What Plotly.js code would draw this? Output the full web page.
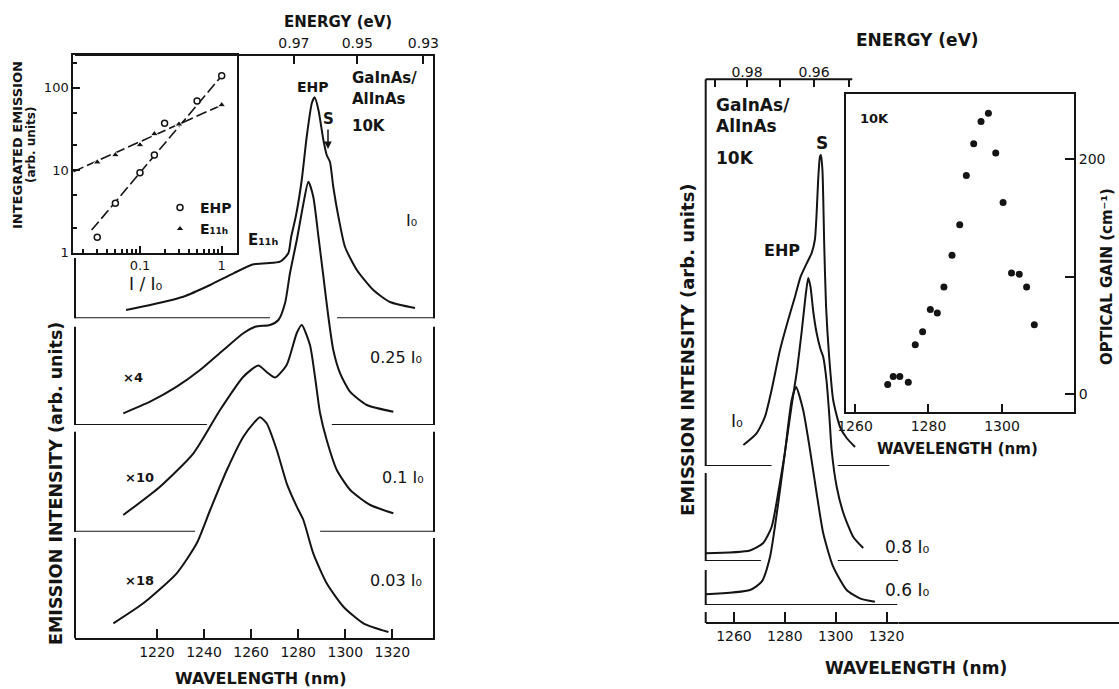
<!DOCTYPE html>
<html><head><meta charset="utf-8">
<script src="https://cdn.plot.ly/plotly-3.0.1.min.js"></script>
<style>html,body{margin:0;padding:0;background:#fff}#chart{width:1119px;height:689px}</style>
</head><body><div id="chart"></div>
<script>
// ---------------- DATA ----------------
// Left inset: integrated emission vs I/I0 (log-log)
const ratioEHP   = [0.03, 0.05, 0.1, 0.15, 0.2, 0.5, 1];
const emisEHP    = [1.54, 3.97, 9.3, 15.3, 37, 69, 139];
const ratioE11h  = [0.03, 0.05, 0.1, 0.15, 0.3, 1];
const emisE11h   = [12.5, 15.3, 20.2, 27.5, 36, 61.7];
const fitRatioEHP  = [0.0256, 1];
const fitEmisEHP   = [1.88, 139];
const fitRatioE11h = [0.0153, 1];
const fitEmisE11h  = [9.6, 61.7];

// Left main: emission spectra (wavelength nm, intensity arb. units above each baseline)
const wlL_I0  = [1206.9,1217.1,1231.2,1242.6,1252.5,1261.0,1266.6,1272.3,1275.8,1277.0,1279.1,1281.5,1283.6,1285.8,1287.0,1288.6,1290.7,1292.1,1293.5,1294.9,1297.1,1299.9,1304.9,1311.9,1319.0,1329.6];
const intL_I0 = [8.3,13.3,21.6,33.3,45,54,55,56.6,65,81.3,103.3,138.3,181.3,215.3,221,208.3,178.3,163.3,156.3,131.3,101.3,71.3,48.3,28.3,16.3,10.3];
const wlL_025  = [1205.7,1217.1,1228.4,1238.3,1248.2,1256.7,1261.7,1268.0,1271.6,1274.4,1276.5,1279.4,1282.1,1284.3,1286.4,1288.6,1290.7,1292.8,1294.9,1297.8,1302.0,1309.1,1320.4];
const intL_025 = [11.7,23.3,38.3,55,75,91.7,98.3,100,105,121.7,151.7,185,220,243.3,228.3,188.3,148.3,108.3,75,51.7,33.3,20,13.3];
const wlL_01  = [1205.7,1221.3,1235.5,1246.8,1256.7,1263.1,1266.6,1270.2,1275.1,1279.4,1281.5,1285.0,1287.2,1289.3,1292.1,1296.4,1302.1,1310.6,1320.4];
const intL_01 = [16.7,45,78.4,121.7,155,166.2,159.7,154.2,166.7,198.7,206.7,186.7,153.7,118.4,91.7,61.7,41.7,26.7,18.4];
const wlL_003  = [1201.5,1214.2,1228.4,1236.9,1242.6,1249.7,1256.7,1261.0,1263.8,1266.6,1270.9,1275.1,1279.4,1282.2,1286.4,1292.1,1299.2,1307.7,1318.3];
const intL_003 = [15,35,65,95,128.3,168.3,201.6,215,221,215,188.3,155,131.6,118.3,85,55,31.6,15,6.3];

// Right main: spectra
const wlR_I0  = [1263.7,1268.9,1272.2,1274.8,1278.1,1281.3,1284.0,1286.2,1288.6,1290.5,1291.8,1292.5,1293.1,1293.8,1294.2,1294.8,1295.5,1296.2,1297.4,1299.0,1301.7,1304.3,1307.6];
const intR_I0 = [21,32.7,49.3,76,116,146,169.3,189.3,202.7,212.7,226,252.7,286,309.3,311,295,220,160,110,66,39,28,19];
const wlR_08  = [1248.9,1266.3,1271.5,1274.8,1277.4,1280.0,1282.7,1284.8,1286.7,1288.3,1289.2,1290.1,1291.2,1292.5,1294.0,1295.1,1296.4,1297.5,1298.4,1300.4,1303.0,1306.9,1310.8];
const intR_08 = [7.7,10.5,18,34,68,108,156,191,231,268,283,274,249,228,212,204,180,145,111,74,48,24,13];
const wlR_06  = [1248.9,1266.3,1270.9,1274.2,1277.4,1280.0,1282.7,1284.4,1287.2,1289.9,1292.5,1295.1,1299.0,1304.3,1309.5,1315.4];
const intR_06 = [10.7,15,23.3,48.3,101.7,151.7,205,218,195,155,111.7,71.7,38.3,15,6.7,3.3];

// Right inset: optical gain
const gainWl = [1268.9,1270.4,1272.2,1274.5,1276.4,1278.4,1280.5,1282.4,1284.2,1286.4,1288.5,1290.3,1292.3,1294.3,1296.3,1298.3,1300.3,1302.6,1304.7,1306.7,1308.8];
const gainVal = [8,15,15,10,42,53,72,69,91,118,144,186,213,232,239,205,163,103,102,91,59];

// Tick labels
const wlTicksLeft  = [1220,1240,1260,1280,1300,1320];
const wlTicksRight = [1260,1280,1300,1320];
const wlTicksInset = [1260,1280,1300];
const energyLeft = [0.97,0.95,0.93];
const energyRightMajor = [0.98,0.96];
const energyRightMinor = [0.99,0.97,0.95];
const gainTicks = [0,100,200];
const gainTickText = ['0',' ','200'];
const ratioTicks = [0.1,1];
const ratioMinor = [0.02,0.03,0.04,0.05,0.06,0.07,0.08,0.09,0.2,0.3,0.4,0.5,0.6,0.7,0.8,0.9];
const emisTicks = [1,10,100];
const emisMinor = [2,5,20,50,200];

// Baseline gaps (wavelength ranges where a baseline is interrupted)
const gapL_I0 = [1268.0,1296.5], gapL_025 = [1241.2,1294.3], gapL_01 = [1236.2,1289.3];
const gapR_I0 = [1274.8,1300.8], gapR_08 = [1270.6,1300.8];

// ---------------- LAYOUT HELPERS ----------------
const W = 1119, H = 689, HC = 1239.84;
const INK = '#141414', FONT = 'DejaVu Sans';
const px = v => v / W, py = v => 1 - v / H;
const LXR = [1185.2, 1338.1], RXR = [1248.9, 1324.6];

function ydom(base, h) { return [py(base), py(base) + h / H]; }
function curve(x, y, xa, ya) {
  return {x, y, xaxis: xa, yaxis: ya, mode: 'lines', showlegend: false, hoverinfo: 'skip',
          line: {color: INK, width: 2, shape: 'spline', smoothing: 0.6}};
}
const data = [
  curve(wlL_I0, intL_I0, 'x', 'y'),
  curve(wlL_025, intL_025, 'x', 'y2'),
  curve(wlL_01, intL_01, 'x', 'y3'),
  curve(wlL_003, intL_003, 'x', 'y4'),
  {x: [], y: [], xaxis: 'x2', yaxis: 'y', showlegend: false},
  {x: fitRatioEHP, y: fitEmisEHP, xaxis: 'x3', yaxis: 'y5', mode: 'lines', showlegend: false,
   line: {color: INK, width: 1.6, dash: '11px,4px'}},
  {x: fitRatioE11h, y: fitEmisE11h, xaxis: 'x3', yaxis: 'y5', mode: 'lines', showlegend: false,
   line: {color: INK, width: 1.6, dash: '11px,4px'}},
  {x: ratioEHP, y: emisEHP, xaxis: 'x3', yaxis: 'y5', mode: 'markers', name: '<b>EHP</b>',
   marker: {symbol: 'circle', size: 6, color: '#fff', line: {color: INK, width: 1.5}}},
  {x: ratioE11h, y: emisE11h, xaxis: 'x3', yaxis: 'y5', mode: 'markers', name: '<b>E₁₁ₕ</b>',
   marker: {symbol: 'triangle-up', size: 7, color: INK, line: {color: '#fff', width: 1}}},
  curve(wlR_I0, intR_I0, 'x4', 'y6'),
  curve(wlR_08, intR_08, 'x4', 'y7'),
  curve(wlR_06, intR_06, 'x4', 'y8'),
  {x: [], y: [], xaxis: 'x5', yaxis: 'y6', showlegend: false},
  {x: gainWl, y: gainVal, xaxis: 'x6', yaxis: 'y9', mode: 'markers', showlegend: false,
   marker: {symbol: 'circle', size: 7, color: INK}}
];

const tf = {family: FONT, size: 14, color: INK};
const axBase = {showgrid: false, zeroline: false, fixedrange: true, linecolor: INK, linewidth: 2,
                tickcolor: INK, tickwidth: 2, tickfont: tf};
const hidden = {visible: false, fixedrange: true, showgrid: false, zeroline: false};

const layout = {
  width: W, height: H, margin: {l: 0, r: 0, t: 0, b: 0},
  paper_bgcolor: '#fff', plot_bgcolor: 'rgba(0,0,0,0)',
  font: {family: FONT, color: INK},
  showlegend: true,
  legend: {x: px(160), y: py(192), xanchor: 'left', yanchor: 'top', bgcolor: 'rgba(0,0,0,0)',
           font: {family: FONT, size: 14, color: INK}, itemwidth: 30, tracegroupgap: 0},
  xaxis: Object.assign({}, axBase, {domain: [px(75), px(435)], range: LXR, anchor: 'y4', showline: true,
           ticks: 'inside', ticklen: 9, tickmode: 'array', tickvals: wlTicksLeft, ticktext: wlTicksLeft.map(String)}),
  xaxis2: Object.assign({}, axBase, {overlaying: 'x', side: 'top', anchor: 'free', position: py(55), range: LXR,
           showline: true, ticks: 'inside', ticklen: 8, tickmode: 'array',
           tickvals: energyLeft.map(e => HC / e), ticktext: energyLeft.map(e => e.toFixed(2))}),
  yaxis:  Object.assign({}, hidden, {domain: ydom(318.3, 300), range: [0, 300], anchor: 'x'}),
  yaxis2: Object.assign({}, hidden, {domain: ydom(425, 300), range: [0, 300], anchor: 'x'}),
  yaxis3: Object.assign({}, hidden, {domain: ydom(531.7, 300), range: [0, 300], anchor: 'x'}),
  yaxis4: Object.assign({}, hidden, {domain: ydom(638.3, 300), range: [0, 300], anchor: 'x'}),
  xaxis3: Object.assign({}, axBase, {type: 'log', domain: [px(73.3), px(237.3)], range: [-1.816, 0.191], anchor: 'y5',
           showline: true, mirror: true, ticks: 'inside', ticklen: 7, tickmode: 'array', tickvals: ratioTicks,
           ticktext: ['0.1', '1'], tickfont: {family: FONT, size: 13, color: INK},
           minor: {ticks: 'inside', ticklen: 4, tickcolor: INK, tickwidth: 1.5, tickmode: 'array', tickvals: ratioMinor}}),
  yaxis5: Object.assign({}, axBase, {type: 'log', domain: [py(252.7), py(55)], range: [0, 2.396], anchor: 'x3',
           showline: true, mirror: true, ticks: 'inside', ticklen: 7, tickmode: 'array', tickvals: emisTicks,
           ticktext: ['1', '10', '100'], tickfont: {family: FONT, size: 13, color: INK},
           minor: {ticks: 'inside', ticklen: 4, tickcolor: INK, tickwidth: 1.5, tickmode: 'array', tickvals: emisMinor}}),
  xaxis4: Object.assign({}, axBase, {domain: [px(705.7), px(898.3)], range: RXR, anchor: 'free', position: py(623),
           showline: true, ticks: 'inside', ticklen: 10, tickmode: 'array', tickvals: wlTicksRight,
           ticktext: wlTicksRight.map(String)}),
  xaxis5: Object.assign({}, axBase, {overlaying: 'x4', side: 'top', anchor: 'free', position: py(79.3), range: RXR,
           showline: false, ticks: 'inside', ticklen: 7, tickmode: 'array',
           tickvals: energyRightMajor.map(e => HC / e), ticktext: energyRightMajor.map(e => e.toFixed(2)),
           minor: {ticks: 'inside', ticklen: 7, tickcolor: INK, tickwidth: 2, tickmode: 'array',
                   tickvals: energyRightMinor.map(e => HC / e)}}),
  yaxis6: Object.assign({}, hidden, {domain: ydom(466, 350), range: [0, 350], anchor: 'x4'}),
  yaxis7: Object.assign({}, hidden, {domain: ydom(561, 350), range: [0, 350], anchor: 'x4'}),
  yaxis8: Object.assign({}, hidden, {domain: ydom(605, 350), range: [0, 350], anchor: 'x4'}),
  xaxis6: Object.assign({}, axBase, {domain: [px(846), px(1074)], range: [1257.55, 1319.6], anchor: 'y9',
           showline: true, mirror: true, ticks: 'inside', ticklen: 8, tickmode: 'array', tickvals: wlTicksInset,
           ticktext: wlTicksInset.map(String)}),
  yaxis9: Object.assign({}, axBase, {domain: [py(412), py(94)], range: [-15.3, 255.3], anchor: 'x6', side: 'right',
           showline: true, mirror: true, ticks: 'inside', ticklen: 9, tickmode: 'array', tickvals: gainTicks,
           ticktext: gainTickText}),
  shapes: [],
  annotations: []
};

// frame segments (paper px)
function seg(x0, y0, x1, y1) {
  layout.shapes.push({type: 'line', xref: 'paper', yref: 'paper', x0: px(x0), x1: px(x1), y0: py(y0), y1: py(y1),
                      line: {color: INK, width: 2}});
}
[[55, 318.3], [326.7, 425], [431.7, 531.7], [538, 638.3]].forEach(s => seg(434, s[0], 434, s[1]));
[[258, 318.3], [326.7, 425], [431.7, 531.7], [538, 638.3]].forEach(s => seg(75, s[0], 75, s[1]));
[[79.3, 466], [473, 561], [570, 605], [612, 623]].forEach(s => seg(705.7, s[0], 705.7, s[1]));
seg(705.7, 79.3, 852.3, 79.3);
seg(898.3, 623, 1119, 623);

// baselines (data coords)
function base(xa, ya, x0, x1) {
  layout.shapes.push({type: 'line', xref: xa, yref: ya, x0, x1, y0: 0, y1: 0, line: {color: INK, width: 2}});
}
base('x', 'y', LXR[0], gapL_I0[0]); base('x', 'y', gapL_I0[1], LXR[1]);
base('x', 'y2', LXR[0], gapL_025[0]); base('x', 'y2', gapL_025[1], LXR[1]);
base('x', 'y3', LXR[0], gapL_01[0]); base('x', 'y3', gapL_01[1], LXR[1]);
base('x4', 'y6', RXR[0], gapR_I0[0]); base('x4', 'y6', gapR_I0[1], 1321.1);
base('x4', 'y7', RXR[0], gapR_08[0]); base('x4', 'y7', gapR_08[1], RXR[1]);
base('x4', 'y8', RXR[0], 1324.2);

// text
function ann(text, x, y, size, opt) {
  opt = opt || {};
  layout.annotations.push({text, x: px(x), y: py(y), xref: 'paper', yref: 'paper', showarrow: false,
    xanchor: opt.left ? 'left' : 'center', yanchor: 'middle', textangle: opt.rot ? -90 : 0,
    font: {family: FONT, size, color: INK}});
}
ann('<b>ENERGY (eV)</b>', 337.5, 22, 15);
ann('<b>EHP</b>', 313, 87, 14);
layout.annotations.push({text: '<b>S</b>', x: px(328), y: py(149), xref: 'paper', yref: 'paper', showarrow: true,
  ax: 0, ay: -30, arrowhead: 2, arrowsize: 1, arrowwidth: 1.5, arrowcolor: INK, standoff: 0,
  font: {family: FONT, size: 15, color: INK}});
ann('<b>GaInAs/</b>', 350, 78, 15, {left: true});
ann('<b>AlInAs</b>', 350, 99, 15, {left: true});
ann('<b>10K</b>', 350, 126, 15, {left: true});
ann('I₀', 411, 221, 16);
ann('<b>E₁₁ₕ</b>', 263, 240, 15);
ann('0.25 I₀', 396, 357, 16);
ann('<b>×4</b>', 133, 377, 13);
ann('0.1 I₀', 403, 477, 16);
ann('<b>×10</b>', 139, 478, 13);
ann('0.03 I₀', 396, 580, 16);
ann('<b>×18</b>', 139, 580, 13);
ann('<b>WAVELENGTH (nm)</b>', 260, 678, 16);
ann('<b>EMISSION INTENSITY (arb. units)</b>', 56, 484, 17.5, {rot: true});
ann('<b>INTEGRATED EMISSION</b>', 17, 145, 13, {rot: true});
ann('<b>(arb. units)</b>', 31, 145, 12, {rot: true});
ann('I / I₀', 146, 284, 17);

ann('<b>ENERGY (eV)</b>', 917, 40, 17);
ann('<b>GaInAs/</b>', 714, 105, 17, {left: true});
ann('<b>AlInAs</b>', 714, 126, 17, {left: true});
ann('<b>10K</b>', 714, 158, 17, {left: true});
ann('<b>S</b>', 822, 143, 17);
ann('<b>EHP</b>', 782, 250, 16);
ann('I₀', 737, 421, 17);
ann('0.8 I₀', 883, 547, 17, {left: true});
ann('0.6 I₀', 883, 590, 17, {left: true});
ann('<b>WAVELENGTH (nm)</b>', 916, 668, 17);
ann('<b>EMISSION INTENSITY (arb. units)</b>', 687, 350, 18, {rot: true});
ann('<b>10K</b>', 858, 118, 13, {left: true});
ann('<b>WAVELENGTH (nm)</b>', 957, 449, 15);
ann('<b>OPTICAL GAIN (cm⁻¹)</b>', 1107, 277, 15, {rot: true});

Plotly.newPlot('chart', data, layout, {displayModeBar: false});
</script></body></html>
